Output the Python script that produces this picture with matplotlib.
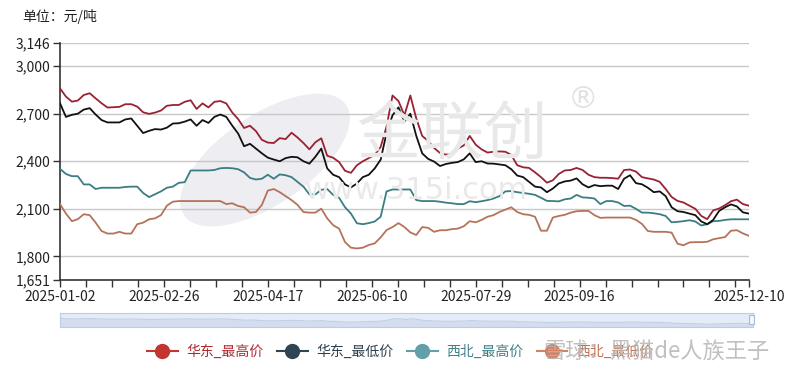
import numpy as np
import matplotlib.pyplot as plt
from matplotlib.lines import Line2D
from matplotlib.patches import Ellipse, Rectangle
from matplotlib.ticker import FuncFormatter

plt.rcParams['font.family'] = ['Noto Sans CJK SC', 'DejaVu Sans']

# price series, one value every 2 trading days (yuan/ton)
east_high = [2860, 2808, 2776, 2783, 2818, 2829, 2797, 2766, 2739, 2741, 2743, 2760, 2760, 2745, 2709, 2699, 2707,
             2720, 2750, 2755, 2755, 2775, 2785, 2730, 2765, 2740, 2775, 2780, 2765, 2708, 2666, 2610, 2624, 2590,
             2535, 2518, 2515, 2546, 2540, 2580, 2550, 2515, 2475, 2520, 2545, 2435, 2422, 2395, 2340, 2327, 2375,
             2400, 2420, 2440, 2490, 2620, 2815, 2780, 2690, 2815, 2670, 2560, 2528, 2484, 2452, 2442, 2445, 2480,
             2500, 2560, 2505, 2475, 2455, 2460, 2462, 2460, 2440, 2375, 2362, 2358, 2330, 2300, 2265, 2280, 2320,
             2342, 2345, 2358, 2345, 2315, 2300, 2296, 2296, 2294, 2290, 2345, 2348, 2335, 2300, 2292, 2285, 2270,
             2225, 2175, 2150, 2140, 2120, 2100, 2055, 2035, 2090, 2102, 2123, 2148, 2158, 2130, 2120]
east_low = [2766, 2680, 2693, 2700, 2726, 2735, 2695, 2660, 2645, 2645, 2645, 2664, 2670, 2624, 2578, 2592, 2603,
            2600, 2612, 2638, 2640, 2650, 2664, 2624, 2660, 2642, 2680, 2695, 2680, 2625, 2575, 2495, 2510, 2480,
            2450, 2423, 2411, 2400, 2420, 2428, 2425, 2400, 2385, 2428, 2480, 2355, 2315, 2300, 2254, 2235, 2260,
            2300, 2315, 2355, 2410, 2580, 2690, 2740, 2650, 2700, 2560, 2450, 2415, 2398, 2370, 2383, 2390, 2395,
            2412, 2450, 2395, 2400, 2386, 2385, 2380, 2375, 2350, 2310, 2300, 2270, 2240, 2235, 2205, 2228, 2260,
            2273, 2278, 2292, 2255, 2235, 2250, 2243, 2246, 2246, 2225, 2290, 2312, 2262, 2255, 2233, 2205, 2210,
            2180, 2110, 2085, 2080, 2070, 2060, 2020, 2003, 2030, 2087, 2110, 2128, 2115, 2078, 2070]
nw_high = [2352, 2320, 2306, 2306, 2254, 2254, 2225, 2233, 2233, 2233, 2233, 2238, 2240, 2240, 2200, 2174, 2192,
           2210, 2233, 2240, 2264, 2268, 2342, 2342, 2342, 2342, 2345, 2356, 2358, 2356, 2350, 2330, 2295, 2285,
           2290, 2315, 2290, 2317, 2312, 2300, 2270, 2240, 2191, 2191, 2220, 2225, 2188, 2170, 2110, 2070, 2009,
           2003, 2010, 2020, 2050, 2210, 2222, 2222, 2222, 2222, 2155, 2149, 2149, 2149, 2145, 2139, 2135, 2130,
           2130, 2148, 2142, 2148, 2155, 2165, 2180, 2210, 2212, 2205, 2200, 2195, 2188, 2170, 2150, 2149, 2147,
           2160, 2165, 2188, 2172, 2170, 2165, 2130, 2149, 2149, 2140, 2118, 2120, 2100, 2076, 2076, 2072, 2066,
           2055, 2015, 2018, 2022, 2028, 2020, 1995, 2003, 2022, 2024, 2030, 2034, 2034, 2034, 2034]
nw_low = [2130, 2070, 2022, 2035, 2066, 2060, 2013, 1960, 1944, 1944, 1955, 1944, 1944, 2003, 2013, 2034, 2040,
          2060, 2120, 2145, 2149, 2149, 2149, 2149, 2149, 2149, 2149, 2149, 2130, 2135, 2118, 2110, 2076, 2080,
          2125, 2215, 2225, 2205, 2180, 2155, 2125, 2080, 2076, 2076, 2101, 2040, 1997, 1975, 1890, 1855, 1850,
          1855, 1872, 1882, 1920, 1966, 1985, 2010, 1985, 1951, 1935, 1985, 1980, 1955, 1965, 1965, 1972, 1975,
          1990, 2022, 2015, 2030, 2050, 2060, 2080, 2095, 2110, 2080, 2066, 2062, 2050, 1962, 1962, 2045, 2055,
          2062, 2076, 2085, 2087, 2087, 2060, 2043, 2045, 2045, 2045, 2045, 2045, 2030, 2005, 1960, 1955, 1955,
          1955, 1950, 1880, 1870, 1888, 1890, 1890, 1892, 1908, 1915, 1922, 1962, 1965, 1945, 1930]

x = np.arange(0, 233, 2)   # trading-day index of each value

date_pos = [0, 35, 70, 105, 140, 175, 232]
date_labels = ['2025-01-02', '2025-02-26', '2025-04-17', '2025-06-10',
               '2025-07-29', '2025-09-16', '2025-12-10']
y_ticks = [1651, 1800, 2100, 2400, 2700, 3000, 3146]

names = ['华东_最高价', '华东_最低价', '西北_最高价', '西北_最低价']
line_colors = ['#992233', '#111111', '#3a7d83', '#b5735a']
legend_colors = ['#c23531', '#2f4554', '#61a0a8', '#d48265']
text_colors = ['#b02a30', '#2f3f4c', '#3f7f88', '#c07050']

fig = plt.figure(figsize=(8, 3.75), dpi=100)
ax = fig.add_axes([0.075, 0.2533, 0.861, 0.632])

# faint watermark behind the lines
ax.add_patch(Ellipse((265 / 800, 1 - 160 / 375), 0.15, 0.38, angle=-25,
                     transform=fig.transFigure, color='#ededf2', zorder=0))
fig.text(0.565, 1 - 135 / 375, '金联创', fontsize=46, color='#e8e8e8', ha='center', va='center', zorder=0)
fig.text(0.52, 1 - 190 / 375, 'www.315i.com', fontsize=22, color='#e9e9e9', ha='center', va='center',
         family='DejaVu Sans', zorder=0)
fig.text(583 / 800, 1 - 100 / 375, '®', fontsize=22, color='#e2e2e2', ha='center', va='center',
         family='DejaVu Sans', zorder=0)

for vals, c in zip([nw_low, nw_high, east_low, east_high], line_colors[::-1]):
    ax.plot(x, vals, color=c, lw=1.3, zorder=3)

ax.set_xlim(0, 232)
ax.set_ylim(1651, 3146)
ax.set_yticks(y_ticks)
ax.yaxis.set_major_formatter(FuncFormatter(lambda v, p: f'{int(v):,}'))
ax.grid(axis='y', color='#c8c8c8', lw=1)
ax.set_axisbelow(True)
ax.patch.set_alpha(0)

ax.set_xticks(date_pos)
ax.set_xticklabels(date_labels)
ax.set_xticks(list(np.arange(0, 232, 8.75)), minor=True)
ax.tick_params(axis='both', which='both', length=5, width=1, color='#333333',
               labelsize=10, labelcolor='#222222', pad=2)
for side in ['top', 'right']:
    ax.spines[side].set_visible(False)
for side in ['left', 'bottom']:
    ax.spines[side].set_color('#333333')
    ax.spines[side].set_linewidth(1.2)

fig.text(22 / 800, 1 - 16 / 375, '单位：元/吨', fontsize=10, color='#222222', va='center')

# data zoom slider below the axis labels
sl = fig.add_axes([0.075, 1 - 327 / 375, 0.866, 14 / 375])
sl.fill_between(x, east_high, 1651, color='#d3ddef', lw=0)
sl.plot(x, east_high, color='#c3cfe6', lw=0.8)
sl.set_xlim(0, 232)
sl.set_ylim(1651, 3600)
sl.set_facecolor('#e4ecf8')
sl.set_xticks([])
sl.set_yticks([])
for s in sl.spines.values():
    s.set_color('#bccbe6')
fig.add_artist(Rectangle((749 / 800, 1 - 324 / 375), 5 / 800, 9 / 375, transform=fig.transFigure,
                         facecolor='#f4f7fc', edgecolor='#a9b9d8', lw=0.8))

handles = [Line2D([], [], color=c, lw=1.5, marker='o', markersize=10, markerfacecolor=c,
                  markeredgecolor=c) for c in legend_colors]
leg = fig.legend(handles, names, loc='center', bbox_to_anchor=(0.5, 1 - 352 / 375), ncol=4,
                 frameon=False, fontsize=10, handlelength=2.2, columnspacing=1.0, handletextpad=0.6)
for t, c in zip(leg.get_texts(), text_colors):
    t.set_color(c)

fig.text(0.82, 1 - 352 / 375, '雪球：黑猫de人族王子', fontsize=16, color='#b5b5b5', ha='center',
         va='center', alpha=0.85, zorder=10)

fig.savefig('out.png', dpi=100)
